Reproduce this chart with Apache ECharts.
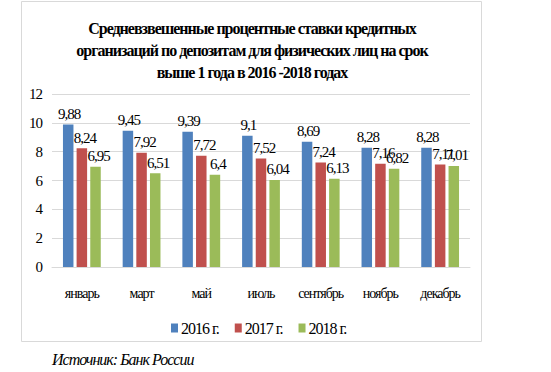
<!DOCTYPE html>
<html>
<head>
<meta charset="utf-8">
<script src="https://cdn.jsdelivr.net/npm/echarts@6/dist/echarts.min.js"></script>
<style>
html,body{margin:0;padding:0;background:#fff;}
#chart{width:551px;height:372px;}
#chart text{letter-spacing:-1px;}
</style>
</head>
<body>
<div id="chart"></div>
<script>
const titleText = 'Средневзвешенные процентные ставки кредитных\nорганизаций по депозитам для физических лиц на срок\nвыше 1 года в 2016 -2018 годах';
const sourceText = 'Источник: Банк России';
const categories = ['январь', 'март', 'май', 'июль', 'сентябрь', 'ноябрь', 'декабрь'];
const seriesNames = ['2016 г.', '2017 г.', '2018 г.'];
const values2016 = [9.88, 9.45, 9.39, 9.1, 8.69, 8.28, 8.28];
const values2017 = [8.24, 7.92, 7.72, 7.52, 7.24, 7.16, 7.11];
const values2018 = [6.95, 6.51, 6.4, 6.04, 6.13, 6.82, 7.01];
const yTicks = {min: 0, max: 12, interval: 2};

const colors = ['#4F81BD', '#C0504D', '#9BBB59'];
const labelOffsets = [[1, 0], [3, 0], [3, 0]];
const FONT = 'Liberation Serif, Times New Roman, serif';
const allValues = [values2016, values2017, values2018];

const chart = echarts.init(document.getElementById('chart'), null, {renderer: 'svg'});
chart.setOption({
  animation: false,
  backgroundColor: '#fff',
  color: colors,
  title: {
    text: titleText,
    left: 252,
    textAlign: 'center',
    top: 17,
    padding: 0,
    textStyle: {fontFamily: FONT, fontWeight: 'bold', fontSize: 16, lineHeight: 22, color: '#000'}
  },
  legend: {
    data: seriesNames,
    left: 166,
    top: 315,
    itemWidth: 7,
    itemHeight: 9,
    itemGap: 9,
    icon: 'rect',
    textStyle: {fontFamily: FONT, fontSize: 16, color: '#000', padding: [0, 0, 0, -2]}
  },
  grid: {left: 52, right: 81, top: 94, bottom: 105},
  xAxis: {
    type: 'category',
    data: categories,
    axisLine: {lineStyle: {color: '#d9d9d9'}},
    axisTick: {show: false},
    axisLabel: {fontFamily: FONT, fontSize: 14, color: '#000', margin: 19, interval: 0}
  },
  yAxis: {
    type: 'value',
    min: yTicks.min, max: yTicks.max, interval: yTicks.interval,
    axisLine: {show: false},
    axisTick: {show: false},
    splitLine: {lineStyle: {color: '#d9d9d9'}},
    axisLabel: {fontFamily: FONT, fontSize: 15, color: '#000', margin: 10}
  },
  series: seriesNames.map((name, i) => ({
    name: name,
    type: 'bar',
    data: allValues[i],
    barWidth: 10.5,
    barGap: '30%',
    itemStyle: {color: colors[i]},
    label: {
      show: true,
      position: 'top',
      distance: 3,
      offset: labelOffsets[i],
      fontFamily: FONT,
      fontSize: 15,
      color: '#000',
      formatter: p => String(p.value).replace('.', ',')
    }
  })),
  graphic: [
    {
      type: 'rect',
      shape: {x: 21.5, y: 1.5, width: 460, height: 340},
      style: {fill: 'none', stroke: '#d9d9d9', lineWidth: 1},
      silent: true
    },
    {
      type: 'text',
      left: 52,
      top: 351,
      style: {text: sourceText, font: 'italic 16px ' + FONT, fill: '#000'}
    }
  ]
});
</script>
</body>
</html>
